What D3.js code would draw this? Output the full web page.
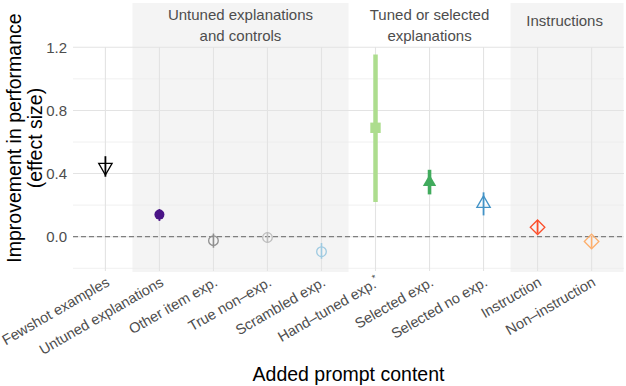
<!DOCTYPE html>
<html>
<head>
<meta charset="utf-8">
<script src="https://cdn.jsdelivr.net/npm/d3@7"></script>
<style>
  body { margin: 0; background: #fff; }
  svg { display: block; font-family: "Liberation Sans", Arial, Helvetica, sans-serif; }
</style>
</head>
<body>
<div id="chart"></div>
<script>
// data
var categories = ["Fewshot examples", "Untuned explanations", "Other item exp.", "True non\u2013exp.",
  "Scrambled exp.", "Hand\u2013tuned exp.*", "Selected exp.", "Selected no exp.", "Instruction", "Non\u2013instruction"];
var effect = [0.44, 0.14, -0.025, -0.005, -0.095, 0.69, 0.345, 0.21, 0.06, -0.03];
var lower  = [0.38, 0.10, -0.07, -0.04, -0.14, 0.22, 0.268, 0.135, 0.02, -0.07];
var upper  = [0.51, 0.175, 0.02, 0.03, -0.04, 1.155, 0.424, 0.281, 0.105, 0.005];

var groupLabels = [["Untuned explanations", "and controls"], ["Tuned or selected", "explanations"], ["Instructions"]];
var groupFirst = ["Untuned explanations", "Hand\u2013tuned exp.*", "Instruction"];
var groupLast  = ["Scrambled exp.", "Selected no exp.", "Non\u2013instruction"];
var groupShaded = [true, false, true];

var yTicks = [0, 0.4, 0.8, 1.2];
var yMinor = [-0.2, 0.2, 0.6, 1.0];

// marker styling per category
var shapes = ["triDownOpen", "circleFill", "circleOpen", "circleOpen", "circleOpen",
  "squareFill", "triUpFill", "triUpOpen", "diamondOpen", "diamondOpen"];
var colors = ["#000000", "#4a1486", "#8f8f8f", "#bdbdbd", "#9ecae1",
  "#addd8e", "#41ab5d", "#4292c6", "#fc4e2a", "#fdae6b"];
var barWidths = [1.8, 1.8, 1.6, 1.6, 1.6, 4.5, 3.6, 1.8, 1.8, 1.6];

var width = 626, height = 386;
var panelLeft = 73, panelRight = 624, panelTop = 47, panelBottom = 271;

var svg = d3.select("#chart").append("svg")
    .attr("width", width)
    .attr("height", height);

svg.append("rect").attr("width", width).attr("height", height).attr("fill", "#fff");

var x = d3.scalePoint().domain(categories).range([panelLeft, panelRight]).padding(0.6);
var y = d3.scaleLinear().domain([0, 1.2]).range([236.7, 47.3]);
var step = x.step();

// shaded group bands
groupLabels.forEach(function(lab, i) {
  var x0 = x(groupFirst[i]) - step / 2;
  var x1 = groupLast[i] === categories[categories.length - 1] ? panelRight - 0.5 : x(groupLast[i]) + step / 2;
  if (groupShaded[i]) {
    svg.append("rect")
      .attr("x", x0).attr("y", 3)
      .attr("width", x1 - x0).attr("height", 272 - 3)
      .attr("fill", "#f4f4f4");
  }
});

// grid
svg.append("g").selectAll("line").data(yMinor).enter().append("line")
  .attr("x1", panelLeft).attr("x2", panelRight)
  .attr("y1", function(d) { return y(d); }).attr("y2", function(d) { return y(d); })
  .attr("stroke", "#ececec").attr("stroke-width", 0.8);
svg.append("g").selectAll("line").data(yTicks).enter().append("line")
  .attr("x1", panelLeft).attr("x2", panelRight)
  .attr("y1", function(d) { return y(d); }).attr("y2", function(d) { return y(d); })
  .attr("stroke", "#e3e3e3").attr("stroke-width", 1.1);
svg.append("g").selectAll("line").data(categories).enter().append("line")
  .attr("x1", function(d) { return x(d); }).attr("x2", function(d) { return x(d); })
  .attr("y1", panelTop).attr("y2", panelBottom)
  .attr("stroke", "#e3e3e3").attr("stroke-width", 1.1);

// zero line
svg.append("line")
  .attr("x1", panelLeft).attr("x2", panelRight)
  .attr("y1", y(0)).attr("y2", y(0))
  .attr("stroke", "#7f7f7f").attr("stroke-width", 1.3)
  .attr("stroke-dasharray", "5,3");

// group headers
groupLabels.forEach(function(lab, i) {
  var cx = (x(groupFirst[i]) + x(groupLast[i])) / 2;
  var t = svg.append("text")
    .attr("text-anchor", "middle")
    .attr("font-size", "15px")
    .attr("fill", "#4d4d4d");
  if (lab.length === 1) {
    t.append("tspan").attr("x", cx).attr("y", 25.5).text(lab[0]);
  } else {
    t.append("tspan").attr("x", cx).attr("y", 19.5).text(lab[0]);
    t.append("tspan").attr("x", cx).attr("y", 41).text(lab[1]);
  }
});

// error bars
svg.append("g").selectAll("line").data(categories).enter().append("line")
  .attr("x1", function(d) { return x(d); }).attr("x2", function(d) { return x(d); })
  .attr("y1", function(d, i) { return y(lower[i]); })
  .attr("y2", function(d, i) { return y(upper[i]); })
  .attr("stroke", function(d, i) { return colors[i]; })
  .attr("stroke-width", function(d, i) { return barWidths[i]; });

// markers
var xc = 5.4;
function shapePath(s) {
  var p = d3.path();
  if (s.indexOf("circle") === 0) {
    var r = s === "circleFill" ? xc - 0.4 : xc - 0.6;
    p.arc(0, 0, r, 0, 2 * Math.PI);
  } else if (s === "squareFill") {
    p.rect(-xc + 0.2, -xc + 0.2, 2 * xc - 0.4, 2 * xc - 0.4);
  } else if (s === "diamondOpen") {
    var d = xc * 1.35;
    p.moveTo(0, -d); p.lineTo(d, 0); p.lineTo(0, d); p.lineTo(-d, 0); p.closePath();
  } else {
    var r2 = 1.555 * xc * 0.92, h = 1.347 * xc * 0.92, yc = 0.778 * xc * 0.92;
    var sgn = s.indexOf("Down") > 0 ? -1 : 1;
    p.moveTo(0, -sgn * r2); p.lineTo(h, sgn * yc); p.lineTo(-h, sgn * yc); p.closePath();
  }
  return p.toString();
}

svg.append("g").selectAll("path").data(categories).enter().append("path")
  .attr("transform", function(d, i) { return "translate(" + x(d) + "," + y(effect[i]) + ")"; })
  .attr("d", function(d, i) { return shapePath(shapes[i]); })
  .attr("fill", function(d, i) { return shapes[i].indexOf("Fill") > 0 ? colors[i] : "none"; })
  .attr("stroke", function(d, i) { return shapes[i].indexOf("Fill") > 0 ? "none" : colors[i]; })
  .attr("stroke-width", 1.3);

// y axis labels
var yAxis = svg.append("g")
  .attr("transform", "translate(70,0)")
  .call(d3.axisLeft(y).tickValues(yTicks).tickSize(0).tickPadding(3).tickFormat(d3.format(".1f")));
yAxis.select(".domain").remove();
yAxis.selectAll("text")
  .attr("font-size", "15px")
  .attr("font-family", "Liberation Sans, Arial, sans-serif")
  .attr("fill", "#4d4d4d");

// x axis labels
var xAxis = svg.append("g")
  .attr("transform", "translate(0," + panelBottom + ")")
  .call(d3.axisBottom(x).tickSize(0));
xAxis.select(".domain").remove();
xAxis.selectAll("text")
  .attr("font-size", "14.5px")
  .attr("font-family", "Liberation Sans, Arial, sans-serif")
  .attr("fill", "#4d4d4d")
  .attr("text-anchor", "end")
  .attr("x", 0).attr("y", 0).attr("dy", 0)
  .attr("transform", "translate(4.5,14) rotate(-30)")
  .each(function(d) {
    if (d.slice(-1) === "*") {
      var t = d3.select(this);
      t.text(d.slice(0, -1));
      t.append("tspan").attr("dy", "-6").attr("font-size", "10px").text("*");
    }
  });

// axis titles
svg.append("text")
  .attr("x", (panelLeft + panelRight) / 2).attr("y", 381)
  .attr("text-anchor", "middle")
  .attr("font-size", "19.5px")
  .attr("fill", "#000")
  .text("Added prompt content");

var yt = svg.append("text")
  .attr("transform", "translate(0,138) rotate(-90)")
  .attr("text-anchor", "middle")
  .attr("font-size", "19.5px")
  .attr("fill", "#000");
yt.append("tspan").attr("x", 0).attr("y", 21).text("Improvement in performance");
yt.append("tspan").attr("x", 0).attr("y", 41.5).text("(effect size)");
</script>
</body>
</html>
